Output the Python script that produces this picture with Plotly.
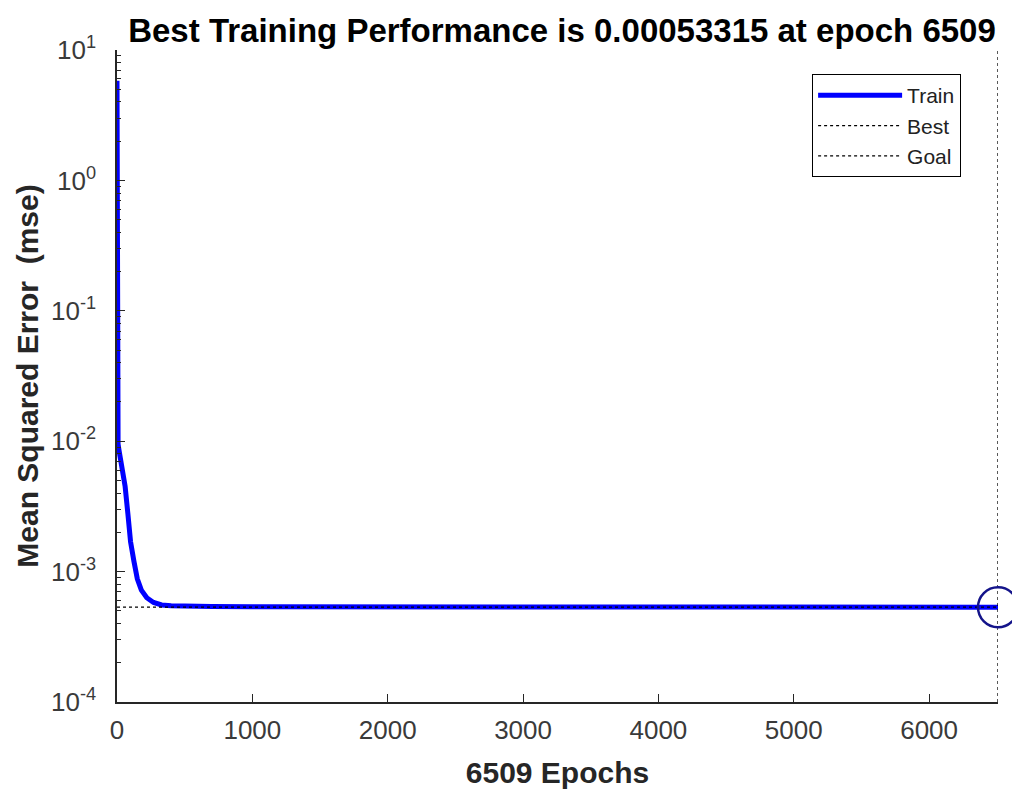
import plotly.graph_objects as go

# ---- data ----
epochs = [0, 1, 2, 3, 5, 8, 15, 30, 45, 60, 80, 100, 125, 150, 180, 220, 270,
          330, 400, 500, 700, 1000, 1500, 2000, 3000, 4000, 5000, 6000, 6509]
train_mse = [5.8, 2.0, 0.4, 0.08, 0.02, 0.0095, 0.0085, 0.0068, 0.0055, 0.0045,
             0.0028, 0.0017, 0.0012, 0.00088, 0.00072, 0.00063, 0.00058,
             0.000555, 0.000548, 0.000543, 0.00054, 0.000538, 0.000537,
             0.000536, 0.000535, 0.000534, 0.0005335, 0.0005332, 0.00053315]
best_epoch = 6509
best_perf = 0.00053315
goal = 0
y_min, y_max = 1e-4, 10
x_ticks = [0, 1000, 2000, 3000, 4000, 5000, 6000]
y_ticks = [1e-4, 1e-3, 1e-2, 1e-1, 1, 10]
y_ticktext = ["10<sup>-4</sup>", "10<sup>-3</sup>", "10<sup>-2</sup>",
              "10<sup>-1</sup>", "10<sup>0</sup>", "10<sup>1</sup>"]

title_text = "Best Training Performance is 0.00053315 at epoch 6509"
x_title = "6509 Epochs"
y_title = "Mean Squared Error  (mse)"

FONT = "Liberation Sans, Arial, sans-serif"

fig = go.Figure()

fig.add_trace(go.Scatter(x=epochs, y=train_mse, mode="lines", name="Train",
                         line=dict(color="#0000ff", width=5)))
fig.add_trace(go.Scatter(x=[best_epoch, best_epoch, None, 0, best_epoch],
                         y=[y_min, y_max, None, best_perf, best_perf],
                         mode="lines", name="Best",
                         line=dict(color="black", width=1.3, dash="dot")))
fig.add_trace(go.Scatter(x=[0, best_epoch], y=[goal, goal], mode="lines", name="Goal",
                         line=dict(color="black", width=1.3, dash="dot")))
fig.add_trace(go.Scatter(x=[best_epoch], y=[best_perf], mode="markers", showlegend=False,
                         cliponaxis=False,
                         marker=dict(symbol="circle-open", size=40,
                                     line=dict(color="#14148a", width=2.5),
                                     color="#14148a")))

axis_font = dict(family=FONT, size=26, color="#3a3a3a")
fig.update_layout(
    width=1012, height=784,
    margin=dict(l=109, r=22, t=42, b=90),
    paper_bgcolor="white", plot_bgcolor="white",
    title=dict(text="<b>" + title_text + "</b>", x=(109 + 445) / 1012, xanchor="center",
               y=1 - 22 / 784, yanchor="middle",
               font=dict(family=FONT, size=33, color="black")),
    legend=dict(x=0.789, y=0.963, xanchor="left", yanchor="top",
                bgcolor="white", bordercolor="black", borderwidth=1,
                itemwidth=84, tracegroupgap=0,
                font=dict(family=FONT, size=21, color="#222222")),
    xaxis=dict(range=[0, best_epoch], tickvals=x_ticks, ticks="inside", ticklen=8,
               tickcolor="#262626", showline=True, linecolor="#262626", linewidth=1.5,
               showgrid=False, zeroline=False, tickfont=axis_font, automargin=False,
               ticklabelstandoff=4,
               title=dict(text="<b>" + x_title + "</b>", standoff=18,
                          font=dict(family=FONT, size=30, color="#262626"))),
    yaxis=dict(type="log", range=[-4, 1], tickvals=y_ticks, ticktext=y_ticktext,
               ticks="inside", ticklen=8, tickcolor="#262626",
               showline=True, linecolor="#262626", linewidth=1.5,
               showgrid=False, zeroline=False, tickfont=axis_font, automargin=False,
               ticklabelstandoff=14,
               minor=dict(ticks="inside", ticklen=4, tickcolor="#262626", dtick="D1", showgrid=False),
               title=dict(text="<b>" + y_title + "</b>", standoff=3,
                          font=dict(family=FONT, size=30, color="#262626"))),
)

fig.write_html("out.html")
